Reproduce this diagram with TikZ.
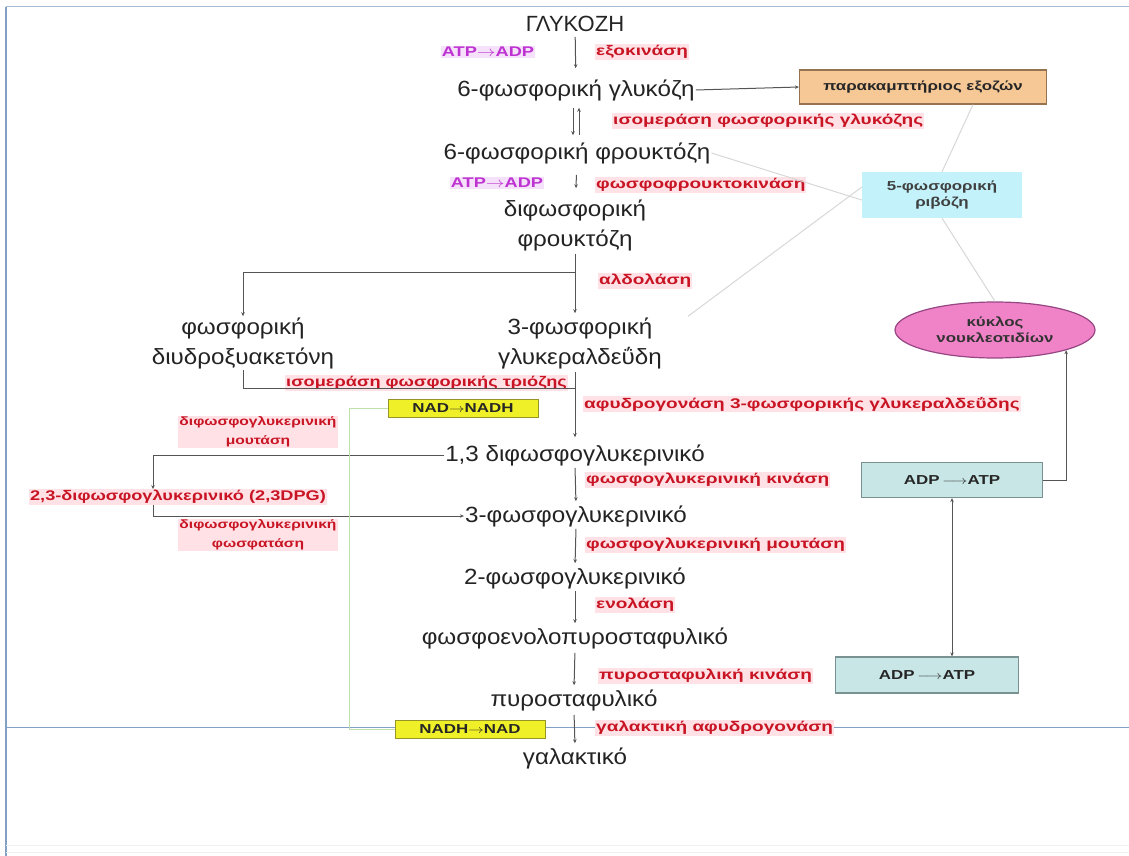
\documentclass[tikz,border=0pt]{standalone}
\usepackage{fontspec}
\setmainfont{Liberation Sans}
\usetikzlibrary{arrows.meta,shapes.geometric,calc}
\definecolor{txt}{RGB}{35,35,35}
\definecolor{redl}{RGB}{200,20,35}
\definecolor{redbg}{RGB}{255,225,230}
\definecolor{purl}{RGB}{190,50,210}
\definecolor{purbg}{RGB}{245,225,250}
\definecolor{orfill}{RGB}{246,200,150}
\definecolor{ordraw}{RGB}{150,115,80}
\definecolor{cyfill}{RGB}{195,242,250}
\definecolor{elfill}{RGB}{240,130,200}
\definecolor{eldraw}{RGB}{150,70,130}
\definecolor{tefill}{RGB}{200,230,230}
\definecolor{tedraw}{RGB}{120,145,145}
\definecolor{yefill}{RGB}{240,240,40}
\definecolor{yedraw}{RGB}{150,150,40}
\definecolor{framec}{RGB}{130,160,195}
\definecolor{linec}{RGB}{85,85,85}
\definecolor{faint}{RGB}{215,215,215}
\definecolor{greenl}{RGB}{190,225,170}
\newcommand{\mainf}{\fontsize{22}{30}\selectfont}
\newcommand{\redf}{\fontsize{14}{19}\selectfont\bfseries}
\newcommand{\smallredf}{\fontsize{12}{19}\selectfont\bfseries}
\newcommand{\boxf}{\fontsize{13}{16}\selectfont\bfseries}
\newcommand{\hs}[1]{\scalebox{1.3}[1]{#1}}
\newcommand{\hr}[1]{\scalebox{1.36}[1]{#1}}
\newcommand{\hm}[1]{\scalebox{1.1}[1]{#1}}
\newcommand{\rar}{\ensuremath{\rightarrow}}
\newcommand{\lrar}{\ensuremath{\longrightarrow}}
\tikzset{
  x=1pt,y=-1pt,
  comp/.style={text=txt,font=\mainf,inner sep=1pt,align=center},
  rlab/.style={text=redl,fill=redbg,font=\redf,inner sep=1pt,anchor=west},
  srlab/.style={text=redl,fill=redbg,font=\smallredf,inner sep=1pt,align=center},
  plab/.style={text=purl,fill=purbg,font=\redf,inner sep=1pt},
  ybox/.style={fill=yefill,draw=yedraw,font=\boxf,text=black!85,minimum width=150,minimum height=18,inner sep=0pt},
  tbox/.style={fill=tefill,draw=tedraw,line width=1.2pt,font=\boxf,text=black!85,inner sep=0pt},
  arr/.style={draw=linec,line width=1pt,-{Stealth[length=4pt,width=3.5pt]}},
  darr/.style={draw=linec,line width=1pt,{Stealth[length=4pt,width=3.5pt]}-{Stealth[length=4pt,width=3.5pt]}},
  plain/.style={draw=linec,line width=1pt},
  flin/.style={draw=faint,line width=1pt},
}
\begin{document}
\begin{tikzpicture}
\useasboundingbox (0,0) rectangle (1129,856);
% frame
\draw[framec!70,line width=1pt] (6,7) -- (1129,7);
\draw[framec,line width=1.2pt] (6,7) -- (6,856);
\draw[framec,line width=0.8pt] (6,727) -- (1129,727);
\draw[black!6,line width=1pt] (6,845) -- (1129,845);
\draw[black!6,line width=1pt] (6,852) -- (1129,852);

% main chain
\node[comp] (glc) at (575,24) {ΓΛΥΚΟΖΗ};
\node[plab] (atpa) at (488,52) {\hs{ATP\rar ADP}};
\node[rlab] (hk) at (595,52) {\hr{εξοκινάση}};
\node[comp] (g6p) at (576,90) {\hm{6-φωσφορική γλυκόζη}};
\node[fill=orfill,draw=ordraw,line width=1.2pt,minimum width=247,minimum height=34,font=\boxf,text=black!85] (hmp) at (923,87) {\hs{παρακαμπτήριος εξοζών}};
\node[rlab] (gpi) at (612,121) {\hr{ισομεράση φωσφορικής γλυκόζης}};
\node[comp] (f6p) at (577,153) {\hm{6-φωσφορική φρουκτόζη}};
\node[plab] (atpb) at (497,183) {\hs{ATP\rar ADP}};
\node[rlab] (pfk) at (595,185) {\hr{φωσφοφρουκτοκινάση}};
\node[comp] (fbp) at (575,225) {\hm{διφωσφορική}\\\hm{φρουκτόζη}};
\node[rlab] (ald) at (598,281) {\hr{αλδολάση}};
\node[comp] (dhap) at (243,343) {\hm{φωσφορική}\\\hm{διυδροξυακετόνη}};
\node[comp] (g3p) at (580,343) {\hm{3-φωσφορική}\\\hm{γλυκεραλδεΰδη}};
\node[fill=cyfill,minimum width=160,minimum height=46,font=\boxf,text=black!75,align=center,inner sep=0pt] (r5p) at (942,195) {\hs{5-φωσφορική}\\\hs{ριβόζη}};
\node[ellipse,fill=elfill,draw=eldraw,line width=1.2pt,minimum width=200,minimum height=56,font=\boxf,text=black!80,align=center,inner sep=0pt] (cyc) at (995,330) {\hs{κύκλος}\\\hs{νουκλεοτιδίων}};
\node[rlab] (tpi) at (285,383) {\hs{ισομεράση φωσφορικής τριόζης}};
\node[ybox] (nad1) at (463,408) {\hs{NAD\rar NADH}};
\node[rlab] (gapdh) at (583,404) {\hr{αφυδρογονάση 3-φωσφορικής γλυκεραλδεΰδης}};
\node[comp] (bpg) at (575,455) {\hm{1,3 διφωσφογλυκερινικό}};
\node[srlab] (mut) at (258,432) {\hs{διφωσφογλυκερινική}\\\hs{μουτάση}};
\node[text=redl,fill=redbg,font=\redf,inner sep=1pt] (dpg) at (178,497) {\hs{2,3-διφωσφογλυκερινικό (2,3DPG)}};
\node[rlab] (pgk) at (585,480) {\hr{φωσφογλυκερινική κινάση}};
\node[srlab] (pase) at (258,535) {\hs{διφωσφογλυκερινική}\\\hs{φωσφατάση}};
\node[comp] (pg3) at (576,516) {\hm{3-φωσφογλυκερινικό}};
\node[rlab] (pgm) at (585,545) {\hr{φωσφογλυκερινική μουτάση}};
\node[comp] (pg2) at (575,578) {\hm{2-φωσφογλυκερινικό}};
\node[rlab] (eno) at (595,605) {\hr{ενολάση}};
\node[comp] (pep) at (575,638) {\hm{φωσφοενολοπυροσταφυλικό}};
\node[rlab] (pk) at (598,676) {\hr{πυροσταφυλική κινάση}};
\node[comp] (pyr) at (574,700) {\hm{πυροσταφυλικό}};
\node[rlab] (ldh) at (595,728) {\hr{γαλακτική αφυδρογονάση}};
\node[ybox] (nad2) at (470,729) {\hs{NADH\rar NAD}};
\node[comp] (lac) at (575,758) {\hm{γαλακτικό}};
\node[tbox,minimum width=181,minimum height=35] (atp1) at (952,480) {\hs{ADP\,\lrar ATP}};
\node[tbox,minimum width=183,minimum height=36] (atp2) at (927,675) {\hs{ADP\,\lrar ATP}};

% coordinates for line junctions
\coordinate (br) at (575,272);
\coordinate (tpiend) at (575,388);

% main arrows
\draw[arr,shorten <=4pt,shorten >=10pt] (glc) -- (g6p);
\draw[arr] (g6p.east) -- (hmp.west);
\draw[plain,-{Stealth[length=4pt,width=3.5pt]},shorten <=6pt,shorten >=6pt] ([xshift=-3]g6p.south) -- ([xshift=-4]f6p.north);
\draw[plain,{Stealth[length=4pt,width=3.5pt]}-,shorten <=6pt,shorten >=6pt] ([xshift=3]g6p.south) -- ([xshift=2]f6p.north);
\draw[arr,shorten <=10pt,shorten >=10pt] (f6p) -- (fbp);
\draw[arr,shorten <=2pt,shorten >=3pt] (fbp.south) -- (fbp.south |- g3p.north);
\draw[arr] (br) -| (dhap.north);
\draw[plain] (dhap.south) |- (tpiend);
\draw[arr,shorten <=2pt,shorten >=6pt] (g3p.south -| 575,0) -- (bpg.north -| 575,0);
\draw[arr,shorten <=1pt,shorten >=3pt] (bpg.south) -- (pg3.north);
\draw[arr,shorten <=1pt,shorten >=3pt] (pg3.south) -- (pg2.north);
\draw[arr,shorten <=1pt,shorten >=3pt] (pg2.south) -- (pep.north);
\draw[arr,shorten <=3pt,shorten >=3pt] (pep.south) -- (pyr.north);
\draw[arr,shorten <=3pt,shorten >=3pt] (pyr.south) -- (lac.north);
% Rapoport-Luebering shunt
\draw[arr] (bpg.west) -| ([xshift=-25]dpg.north);
\draw[arr] ([xshift=-25]dpg.south) |- (pg3.west);
% NAD recycling
\draw[draw=greenl,line width=1pt] (nad2.west) -- ++(-45,0) |- (nad1.west);
% pentose links
\draw[flin] ([xshift=50]hmp.south) -- (r5p.north);
\draw[flin] (f6p.east) -- ([yshift=-5]r5p.west);
\draw[flin] ([xshift=25]g3p.north east) -- ([yshift=8]r5p.west);
\draw[flin] (r5p.south) -- (cyc.north);
% ATP
\draw[arr] (atp1.east) -| (cyc.south east);
\draw[darr] (atp1.south) -- (atp1.south |- atp2.north);
\end{tikzpicture}
\end{document}
